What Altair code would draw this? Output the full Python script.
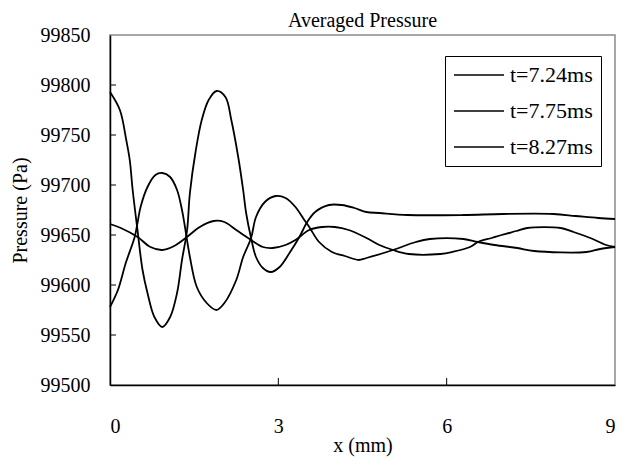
import altair as alt
import pandas as pd

labels = ["t=7.24ms", "t=7.75ms", "t=8.27ms"]

xa = [0, 0.176, 0.29, 0.352, 0.404, 0.49, 0.58, 0.668, 0.791, 0.932, 1.072, 1.195, 1.283, 1.374, 1.424,
      1.53, 1.635, 1.758, 1.898, 2.057, 2.162, 2.285, 2.373, 2.426, 2.514, 2.602, 2.725, 2.865, 3.023,
      3.199, 3.375, 3.515, 3.656, 3.902, 4.131, 4.359, 4.57, 4.8, 5.3, 6.3, 7.0, 7.9, 8.3, 8.7, 9.0]
ya = [99793, 99775, 99745, 99725, 99695, 99655, 99615, 99592, 99568, 99558, 99568, 99592, 99625, 99655, 99692,
      99735, 99765, 99785, 99794, 99788, 99765, 99728, 99695, 99672, 99647, 99628, 99617, 99613, 99618,
      99632, 99648, 99663, 99673, 99680, 99680, 99677, 99673, 99672, 99670, 99670, 99671, 99671, 99669, 99667, 99666]

xb = [0, 0.141, 0.281, 0.44, 0.49, 0.545, 0.668, 0.809, 0.932, 1.072, 1.195, 1.283, 1.336, 1.424, 1.547,
      1.723, 1.898, 2.039, 2.25, 2.373, 2.514, 2.602, 2.76, 2.953, 3.129, 3.305, 3.463, 3.551, 3.726, 3.955,
      4.184, 4.43, 4.57, 5.045, 5.449, 5.7, 6.3, 6.557, 6.855, 7.26, 7.558, 8.49, 8.736, 9.0]
yb = [99578, 99595, 99622, 99648, 99662, 99678, 99698, 99710, 99712, 99708, 99695, 99675, 99658, 99628, 99598,
      99582, 99575, 99582, 99605, 99628, 99647, 99668, 99683, 99689, 99687, 99678, 99665, 99658, 99643, 99633,
      99629, 99625, 99627, 99635, 99643, 99646, 99646, 99643, 99640, 99637, 99634, 99633, 99636, 99638]

xc = [0, 0.193, 0.492, 0.721, 0.932, 1.143, 1.371, 1.6, 1.846, 2.039, 2.25, 2.514, 2.725, 2.9, 3.129,
      3.305, 3.551, 3.779, 4.008, 4.254, 4.57, 4.8, 5.045, 5.326, 5.889, 6.1, 6.416, 6.557, 6.803, 6.978,
      7.242, 7.435, 8.033, 8.262, 8.56, 8.842, 9.0]
yc = [99661, 99657, 99648, 99638, 99635, 99639, 99648, 99658, 99664, 99663, 99655, 99645, 99638, 99637, 99640,
      99645, 99655, 99658, 99658, 99655, 99647, 99640, 99635, 99631, 99631, 99633, 99638, 99643, 99647, 99650,
      99654, 99657, 99657, 99653, 99647, 99640, 99638]

y_tick_values = [99500, 99550, 99600, 99650, 99700, 99750, 99800, 99850]
y_inner_ticks = [99550, 99600, 99650, 99700, 99750, 99800]
x_tick_values = [0, 3, 6, 9]
x_inner_ticks = [3, 6]

rows = []
for lab, xs, ys in zip(labels, [xa, xb, xc], [ya, yb, yc]):
    for xv, yv in zip(xs, ys):
        rows.append({"series": lab, "x": xv, "p": yv})
df = pd.DataFrame(rows)

FONT = "Liberation Serif"
xscale = alt.Scale(domain=[0, 9], nice=False, zero=False)
yscale = alt.Scale(domain=[99500, 99850], nice=False, zero=False)

x_axis = alt.Axis(title="x (mm)", values=x_tick_values, format="d", labelPadding=31,
                  titlePadding=-1, ticks=False, tickSize=0)
y_axis = alt.Axis(title="Pressure (Pa)", values=y_tick_values, format="d", labelPadding=20,
                  titlePadding=10, ticks=False, tickSize=0)

lines = alt.Chart(df).mark_line(strokeWidth=1.8, interpolate="catmull-rom").encode(
    x=alt.X("x:Q", scale=xscale, axis=x_axis),
    y=alt.Y("p:Q", scale=yscale, axis=y_axis),
    color=alt.Color("series:N", scale=alt.Scale(domain=labels, range=["black", "black", "black"]),
                    legend=alt.Legend(title=None, orient="none", legendX=335, legendY=21,
                                      symbolType="M-1,0H4", symbolSize=400, symbolStrokeWidth=1.5,
                                      symbolStrokeColor="black", labelFont=FONT, labelFontSize=22,
                                      labelColor="black", labelOffset=35, padding=8, rowPadding=14,
                                      strokeColor="black", fillColor="white")),
    detail="series:N",
)

ytk = alt.Chart(pd.DataFrame({"p": y_inner_ticks})).mark_rule(color="black", strokeWidth=1).encode(
    y=alt.Y("p:Q", scale=yscale, axis=y_axis), x=alt.value(0), x2=alt.value(6))
xtk = alt.Chart(pd.DataFrame({"x": x_inner_ticks})).mark_rule(color="black", strokeWidth=1).encode(
    x=alt.X("x:Q", scale=xscale, axis=x_axis), y=alt.value(350), y2=alt.value(343))

chart = alt.layer(lines, ytk, xtk).properties(
    width=505, height=350,
    title=alt.TitleParams("Averaged Pressure", font=FONT, fontSize=20, fontWeight="normal",
                          color="black", anchor="middle", frame="group", offset=-6),
    autosize=alt.AutoSizeParams(type="none"),
    padding={"left": 102, "top": 27, "right": 5, "bottom": 72},
).configure_axis(
    labelFont=FONT, titleFont=FONT, labelFontSize=20, titleFontSize=20,
    labelColor="black", titleColor="black", titleFontWeight="normal",
    domainColor="black", domainWidth=1.5, grid=False,
).configure_view(stroke="#8a8a8a", strokeWidth=1.5)

chart.save("out.html", embed_options={"renderer": "svg", "actions": False})
